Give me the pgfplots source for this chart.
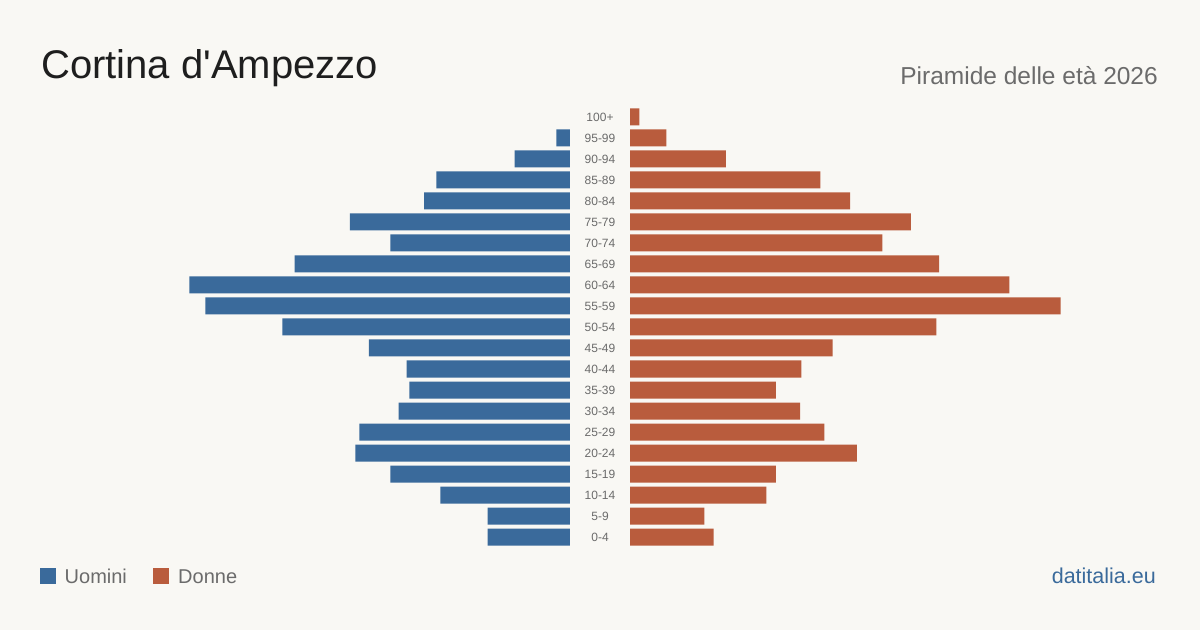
\documentclass[border=0pt]{standalone}
\usepackage{pgfplots}
\pgfplotsset{compat=1.18}
\usepackage{pgfplotstable}
\usepackage{fontspec}
\setmainfont{Liberation Sans}

\definecolor{bg}{HTML}{F9F8F4}
\definecolor{men}{HTML}{3A6A9B}
\definecolor{women}{HTML}{B95C3D}
\definecolor{ink}{HTML}{1E1E1E}
\definecolor{muted}{HTML}{6B6B6B}

% Residents by five-year age class (idx 0 = 0-4 ... idx 20 = 100+)
\pgfplotstableread{
idx men women
0   61  62
1   61  55
2   96  101
3   133 108
4   159 168
5   156 144
6   127 126
7   119 108
8   121 127
9   149 150
10  213 227
11  270 319
12  282 281
13  204 229
14  133 187
15  163 208
16  108 163
17  99  141
18  41  71
19  10  27
20  nan 7
}\pyramid

\pgfplotsset{
  pyr/.style={
    scale only axis, width=570pt, height=441pt,
    xmin=0, xmax=422.22, ymin=-0.5, ymax=20.5,
    xbar, bar width=17pt,
    axis line style={draw=none},
    xtick=\empty, ytick=\empty,
    major tick length=0pt,
    unbounded coords=discard,
    clip=false,
  },
}

\begin{document}
\begin{tikzpicture}[x=1pt,y=1pt]
  \useasboundingbox (0,0) rectangle (1200,630);
  \fill[bg] (0,0) rectangle (1200,630);

  % men, growing to the left
  \begin{axis}[pyr, x dir=reverse, at={(0pt,82.5pt)}, anchor=south west]
    \addplot[fill=men, draw=none] table[x=men, y=idx] {\pyramid};
  \end{axis}

  % women, growing to the right; age classes in the middle
  \begin{axis}[pyr, at={(630pt,82.5pt)}, anchor=south west,
      ytick={0,...,20},
      yticklabels={0-4,5-9,10-14,15-19,20-24,25-29,30-34,35-39,40-44,45-49,
        50-54,55-59,60-64,65-69,70-74,75-79,80-84,85-89,90-94,95-99,100+},
      yticklabel style={anchor=center, xshift=-30pt, text=muted,
        font=\fontsize{12}{14}\selectfont}]
    \addplot[fill=women, draw=none] table[x=women, y=idx] {\pyramid};
  \end{axis}

  % titles
  \node[anchor=base west, inner sep=0, text=ink, font=\fontsize{40}{48}\selectfont]
    at (41,551) {Cortina d\textquotesingle Ampezzo};
  \node[anchor=base east, inner sep=0, text=muted, font=\fontsize{24.5}{29}\selectfont]
    at (1158,545) {Piramide delle età 2026};

  % legend
  \fill[men] (40,46.3) rectangle (56,62.3);
  \node[anchor=base west, inner sep=0, text=muted, font=\fontsize{20}{24}\selectfont]
    at (64.5,47) {Uomini};
  \fill[women] (152.7,46.3) rectangle (168.7,62.3);
  \node[anchor=base west, inner sep=0, text=muted, font=\fontsize{20}{24}\selectfont]
    at (178,47) {Donne};

  % source
  \node[anchor=base east, inner sep=0, text=men, font=\fontsize{21.5}{26}\selectfont]
    at (1156,47) {datitalia.eu};
\end{tikzpicture}
\end{document}
